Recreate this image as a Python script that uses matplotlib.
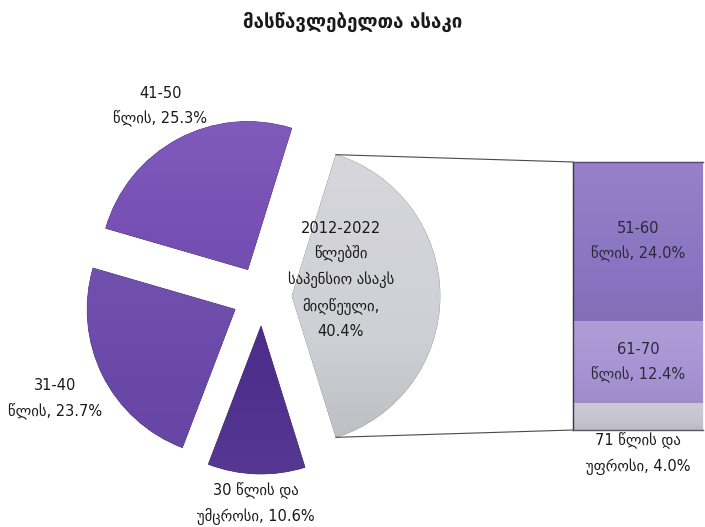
import numpy as np
import matplotlib
matplotlib.use("Agg")
import matplotlib.pyplot as plt
from matplotlib.colors import to_rgb

plt.rcParams['font.family'] = ['DejaVu Sans']

title = "მასწავლებელთა ასაკი"

# Main pie: the retirement-age group is split out into the stacked bar
pie_labels = [
    "2012-2022\nწლებში\nსაპენსიო ასაკს\nმიღწეული,\n40.4%",
    "41-50\nწლის, 25.3%",
    "31-40\nწლის, 23.7%",
    "30 წლის და\nუმცროსი, 10.6%",
]
pie_values = [40.4, 25.3, 23.7, 10.6]
pie_colors = ["#cfcfd6", "#7850b6", "#6a48a9", "#4f2f8c"]

# Breakdown of the retirement-age group (bottom to top)
bar_labels = ["71 წლის და\nუფროსი, 4.0%", "61-70\nწლის, 12.4%", "51-60\nწლის, 24.0%"]
bar_values = [4.0, 12.4, 24.0]
bar_colors = ["#c6c4d0", "#a793d3", "#8b74c1"]

W, H = 705, 527
FS = 10.5
LS = 1.75
fig = plt.figure(figsize=(W / 100, H / 100), dpi=100)
ax = fig.add_axes([0, 0, 1, 1])


def shade(patch, color, top=0.18, bottom=-0.10, zorder=1.5):
    """Fill a patch with a soft vertical gradient clipped to its outline."""
    bb = patch.get_path().get_extents(patch.get_patch_transform())
    base = np.array(to_rgb(color))
    t = np.linspace(top, bottom, 64)[:, None]
    rows = np.where(t > 0, base + (1 - base) * t, base * (1 + t))
    img = np.repeat(rows[:, None, :], 2, axis=1)
    im = ax.imshow(np.clip(img, 0, 1), extent=(bb.x0, bb.x1, bb.y0, bb.y1),
                   origin="upper", aspect="auto", zorder=zorder,
                   interpolation="bilinear")
    im.set_clip_path(patch)


center = (262, 231)
radius = 148
shift = 30
start = -pie_values[0] / 100 * 180

wedges, _ = ax.pie(
    pie_values, colors=pie_colors, startangle=start, counterclock=True,
    center=center, radius=radius, explode=[shift] * 4,
    wedgeprops=dict(edgecolor="#3a2a5a", linewidth=0.5),
)
wedges[0].set_edgecolor("#8a8a8a")
grad = [(0.15, -0.08), (0.06, -0.03), (0.05, -0.03), (-0.02, 0.04)]
for w, c, (t0, t1) in zip(wedges, pie_colors, grad):
    shade(w, c, top=t0, bottom=t1)
    w.set_zorder(1)

# Labels placed along each slice's bisector
label_dist = [0.33, 1.25, 1.36, 1.20]
for w, lab, d in zip(wedges, pie_labels, label_dist):
    tm = np.deg2rad((w.theta1 + w.theta2) / 2)
    cx, cy = w.center
    if d < 1:
        tx, ty = cx + d * radius, cy + 16
    else:
        tx, ty = cx + d * radius * np.cos(tm), cy + d * radius * np.sin(tm)
    ax.text(tx, ty, lab, ha="center", va="center", fontsize=FS,
            color="#1a1a1a", linespacing=LS, zorder=5)

# Stacked bar
bar_x = 638
bar_w = 130
bar_bottom = 97
bar_height = 268
scale = bar_height / sum(bar_values)
bottoms = bar_bottom + np.concatenate([[0], np.cumsum(bar_values)[:-1]]) * scale
bars = ax.bar([bar_x] * 3, np.array(bar_values) * scale, bottom=bottoms,
              width=bar_w, color=bar_colors, edgecolor="#f4f2f8",
              linewidth=1.2, zorder=1)
for b, c in zip(bars, bar_colors):
    shade(b, c, top=0.10, bottom=-0.05)

# dark outline around the bar
left = bar_x - bar_w / 2
right = bar_x + bar_w / 2
ax.plot([left, left], [bar_bottom, bar_bottom + bar_height],
        color="#3a3a3a", lw=1.0, zorder=3)
ax.plot([left, right], [bar_bottom + bar_height] * 2,
        color="#5a4a7a", lw=1.0, zorder=3)
ax.plot([left, right], [bar_bottom] * 2, color="#5a5a5a", lw=1.0, zorder=3)

# bar labels
for i, (b, lab, v) in enumerate(zip(bottoms, bar_labels, bar_values)):
    if i == 0:
        ax.text(bar_x, b - 24, lab, ha="center", va="center", fontsize=FS,
                color="#1a1a1a", linespacing=LS, zorder=5)
    else:
        ax.text(bar_x, b + v * scale / 2, lab, ha="center", va="center",
                fontsize=FS, color="#2a2a3a", linespacing=LS, zorder=5)

# connector lines from the split-out slice to the bar
g = wedges[0]
gx, gy = g.center
for ang, yb in [(g.theta2, bar_bottom + bar_height), (g.theta1, bar_bottom)]:
    a = np.deg2rad(ang)
    ax.plot([gx + radius * np.cos(a), left],
            [gy + radius * np.sin(a), yb], color="#4a4a4a", lw=0.8, zorder=3)

ax.text(W / 2, H - 22, title, ha="center", va="center", fontsize=13.5,
        fontweight="semibold", color="#1a1a1a")

ax.set_xlim(0, W)
ax.set_ylim(0, H)
ax.set_aspect("auto")
ax.axis("off")
fig.savefig("out.png", dpi=100, facecolor="white")
